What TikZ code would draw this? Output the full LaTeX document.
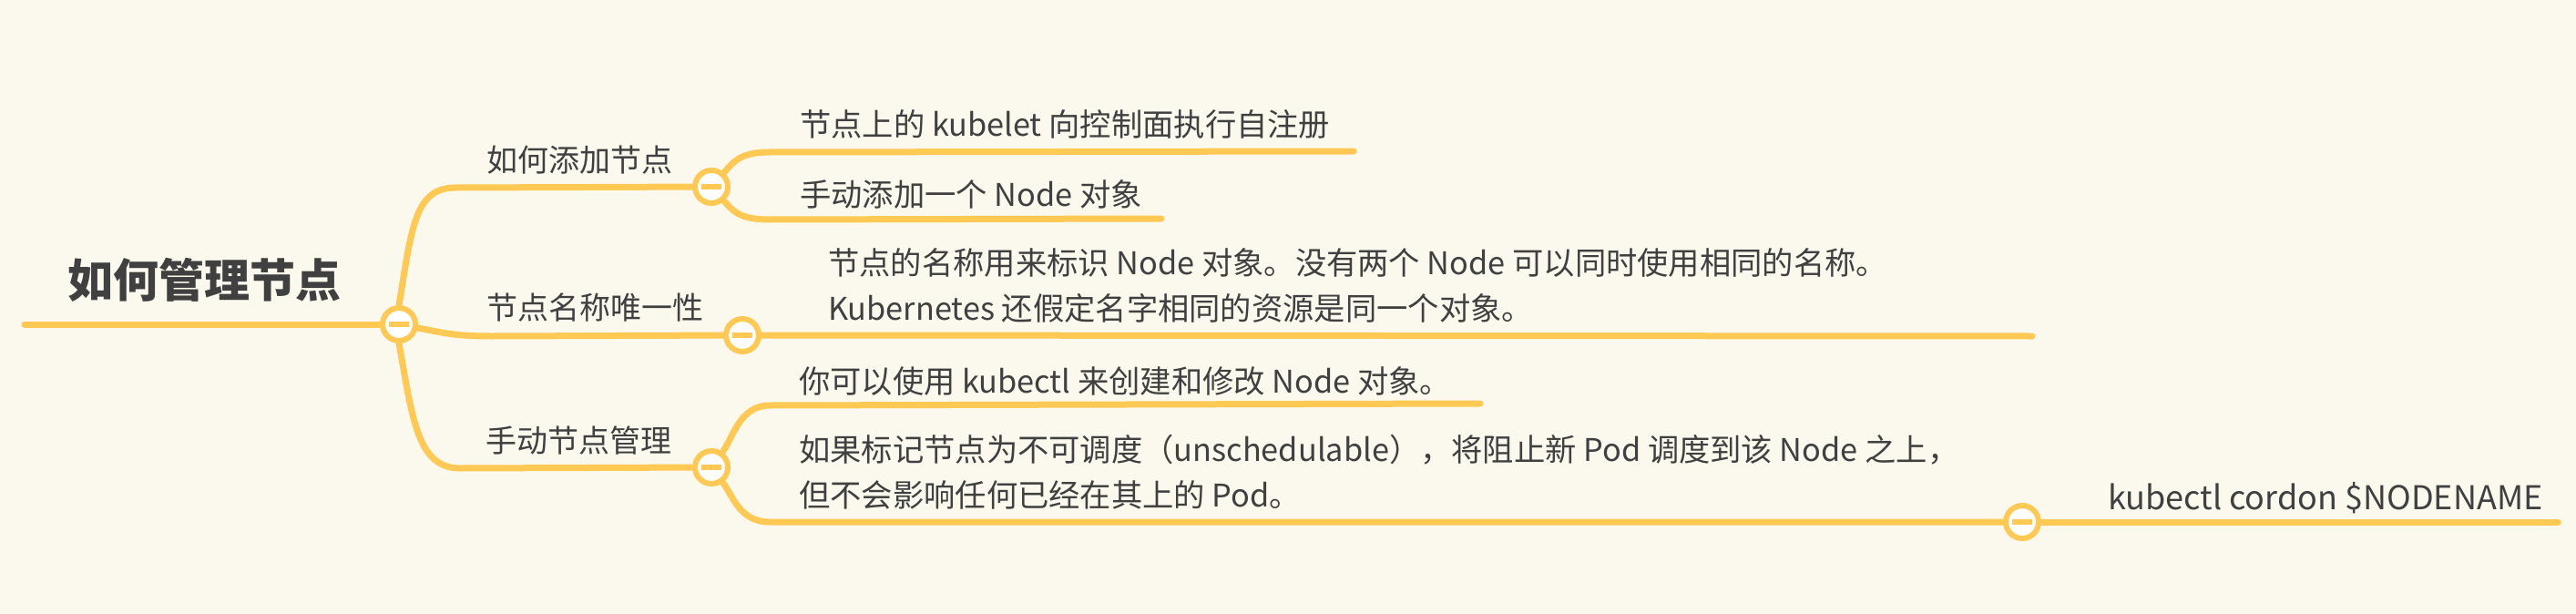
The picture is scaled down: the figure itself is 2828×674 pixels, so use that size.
\documentclass[tikz,border=0pt]{standalone}
\usepackage{fontspec}
\setmainfont{Noto Sans CJK SC}
\pgfdeclarelayer{paperlayer}
\pgfdeclarelayer{lines}
\pgfsetlayers{paperlayer,lines,main}
\definecolor{paper}{RGB}{251,248,237}
\definecolor{yel}{RGB}{255,201,84}
\definecolor{ink}{RGB}{64,64,64}
\newcommand\minusbar{\textcolor{yel}{\rule[-3pt]{22pt}{6pt}}}
\begin{document}
\begin{tikzpicture}[x=1pt,y=-1pt,
  conn/.style={draw=yel,line width=7pt,line cap=round,line join=round},
  knob/.style={circle,draw=yel,line width=6pt,fill=white,minimum size=36pt,inner sep=0pt},
  rootlabel/.style={anchor=west,text=ink,font=\fontsize{50}{60}\selectfont\bfseries,inner sep=0pt},
  mid/.style={anchor=west,text=ink,font=\fontsize{34}{40}\selectfont,inner sep=0pt},
  leaf/.style={anchor=west,text=ink,font=\fontsize{34.3}{50}\selectfont,inner sep=0pt,align=left}]
\useasboundingbox (0,0) rectangle (2828,674);
\begin{pgfonlayer}{paperlayer}
\fill[paper] (0,0) rectangle (2828,674);
\end{pgfonlayer}

% knobs
\node[knob] (R) at (438,356) {\minusbar};
\node[knob] (A) at (781,205) {\minusbar};
\node[knob] (B) at (815,368) {\minusbar};
\node[knob] (C) at (781,513) {\minusbar};
\node[knob] (D) at (2220,573) {\minusbar};

% free ends
\coordinate (r0) at (27,356);
\coordinate (a1end) at (1486,166);
\coordinate (a2end) at (1275,240);
\coordinate (bend) at (2231,369);
\coordinate (c1end) at (1625,443);
\coordinate (dend) at (2808,573);

% texts
\node[rootlabel] (root) at (74,307) {如何管理节点};
\node[mid] (ta) at (534,176) {如何添加节点};
\node[mid] (tb) at (534,338) {节点名称唯一性};
\node[mid] (tc) at (533,484) {手动节点管理};
\node[leaf] (la1) at (878,137) {节点上的 kubelet 向控制面执行自注册};
\node[leaf] (la2) at (878,213) {手动添加一个 Node 对象};
\node[leaf] (lb) at (909,313) {节点的名称用来标识 Node 对象。没有两个 Node 可以同时使用相同的名称。\\Kubernetes 还假定名字相同的资源是同一个对象。};
\node[leaf] (lc1) at (877,418) {你可以使用 kubectl 来创建和修改 Node 对象。};
\node[leaf] (lc2) at (877,518) {如果标记节点为不可调度（unschedulable），将阻止新 Pod 调度到该 Node 之上，\\但不会影响任何已经在其上的 Pod。};
\node[leaf,font=\fontsize{36}{44}\selectfont] (ld) at (2314,547) {kubectl cordon \$NODENAME};

% connectors
\begin{pgfonlayer}{lines}
\draw[conn] (r0) -- (R);
\draw[conn] (R.north) .. controls (452,250) and (455,206) .. (500,206) -- (A);
\draw[conn] (R) .. controls (490,366) and (500,369) .. (540,369) -- (B);
\draw[conn] (R.south) .. controls (453,460) and (458,514) .. (505,514) -- (C);
\draw[conn] (A) .. controls (805,178) and (812,167) .. (845,167) -- (a1end);
\draw[conn] (A) .. controls (805,232) and (812,241) .. (845,241) -- (a2end);
\draw[conn] (B) -- (bend);
\draw[conn] (C) .. controls (805,480) and (812,445) .. (845,445) -- (c1end);
\draw[conn] (C) .. controls (805,545) and (812,573) .. (845,573) -- (D);
\draw[conn] (D) -- (dend);
\end{pgfonlayer}
\end{tikzpicture}
\end{document}
